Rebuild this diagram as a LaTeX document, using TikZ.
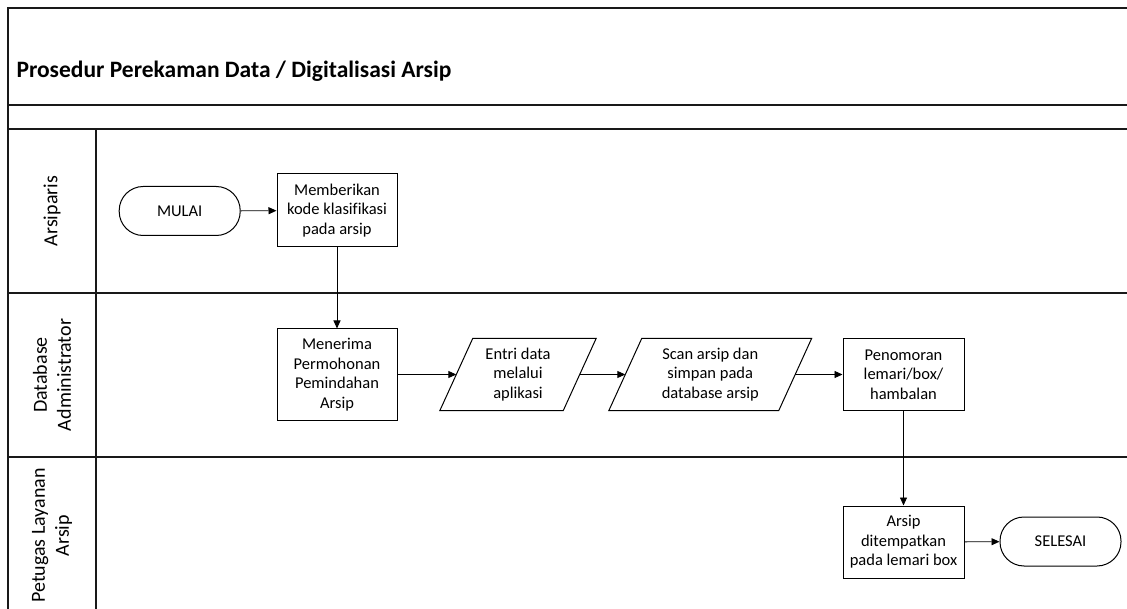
\documentclass[tikz,border=0pt]{standalone}
\usepackage{fontspec}
\setmainfont[Ligatures=NoCommon]{Carlito}
\usetikzlibrary{arrows.meta}

\begin{document}
\begin{tikzpicture}[x=1pt,y=-1pt,
  frame/.style={line width=1.7pt, black!90},
  boxline/.style={line width=1pt, black},
  txt/.style={font=\fontsize{16.5}{19.5}\selectfont, align=center},
  stepbox/.style={txt, draw, boxline, minimum width=121pt, minimum height=72pt, inner sep=0pt},
  terminal/.style={txt, draw, boxline, rounded corners=24pt, minimum width=121pt, minimum height=49pt, inner sep=0pt},
  iobox/.style={txt, minimum height=72pt, inner sep=0pt},
  flow/.style={line width=0.9pt, -{Triangle[length=8pt,width=7pt]}},
  lanelabel/.style={rotate=90, align=center, font=\fontsize{20}{24}\selectfont}
]
\useasboundingbox (0,0) rectangle (1127,609);
\clip (0,0) rectangle (1127,609);

% pool frame and swimlanes
\draw[frame] (1140,8) -- (8,8) -- (8,620);
\draw[frame] (8,105) -- (1140,105);
\draw[frame] (8,129) -- (1140,129);
\draw[frame] (8,293) -- (1140,293);
\draw[frame] (8,457) -- (1140,457);
\draw[frame] (96,129) -- (96,620);

\node[anchor=base west, font=\bfseries\fontsize{23.5}{28}\selectfont] (title) at (13,77.5)
  {Prosedur Perekaman Data / Digitalisasi Arsip};

\node[lanelabel] (lane1) at (52,211) {Arsiparis};
\node[lanelabel] (lane2) at (52,375) {Database\\Administrator};
\node[lanelabel] (lane3) at (52,535.5) {Petugas Layanan\\Arsip};

% process steps
\node[terminal] (mulai) at (179.7,211) {MULAI};
\node[stepbox, minimum width=120pt, minimum height=73pt] (beri) at (337,210.5)
  {Memberikan\\kode klasifikasi\\pada arsip};
\node[stepbox, minimum width=120pt, minimum height=91pt] (terima) at (337,374.5)
  {Menerima\\Permohonan\\Pemindahan\\Arsip};
\node[iobox, minimum width=123pt] (entri) at (518,374.5)
  {Entri data\\melalui\\aplikasi};
\node[iobox, minimum width=169.5pt] (scan) at (710.25,374.5)
  {Scan arsip dan\\simpan pada\\database arsip};
\node[stepbox] (nomor) at (903.5,374.5) {Penomoran\\lemari/box/\\hambalan};
\node[stepbox] (tempat) at (903.5,542) {Arsip\\ditempatkan\\pada lemari box};
\node[terminal] (selesai) at (1060.5,541.5) {SELESAI};

% parallelogram outlines of the input steps
\foreach \n in {entri,scan}{
  \draw[boxline] ([xshift=-16.5pt]\n.south west) -- ([xshift=16.5pt]\n.north west)
    -- ([xshift=16.5pt]\n.north east) -- ([xshift=-16.5pt]\n.south east) -- cycle;
}

% flow connectors
\draw[flow] (mulai) -- (beri);
\draw[flow] (beri) -- (terima);
\draw[flow] (terima) -- (entri);
\draw[flow] (entri) -- (scan);
\draw[flow] (scan) -- (nomor);
\draw[flow] (nomor) -- (tempat);
\draw[flow] (tempat) -- (selesai);
\end{tikzpicture}
\end{document}
